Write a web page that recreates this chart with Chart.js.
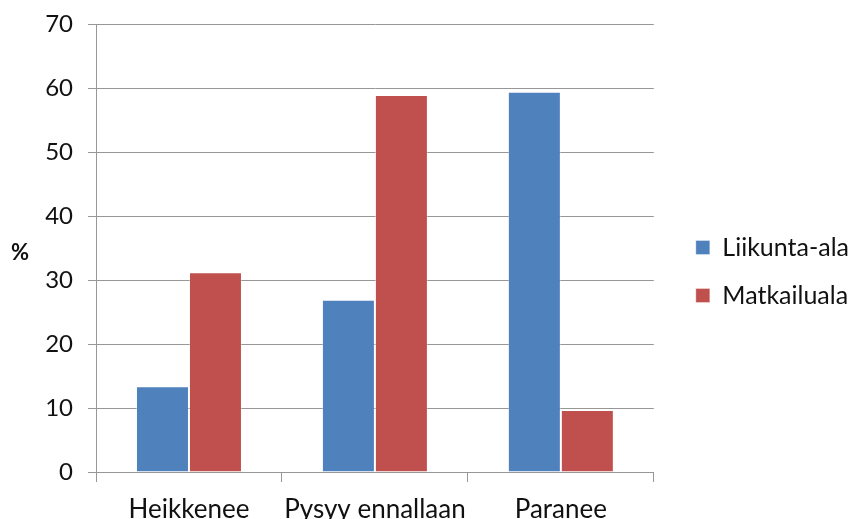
<!DOCTYPE html>
<html>
<head>
<meta charset="utf-8">
<script src="https://cdn.jsdelivr.net/npm/chart.js@4/dist/chart.umd.min.js"></script>
<style>
  html, body { margin: 0; padding: 0; background: #fff; }
  #wrap { width: 848px; height: 519px; }
</style>
</head>
<body>
<div id="wrap"><canvas id="chart"></canvas></div>
<script>
// kategoriat ja sarjat
const categories = ["Heikkenee", "Pysyy ennallaan", "Paranee"];
const liikunta = [13.4, 26.9, 59.4];
const matkailu = [31.2, 58.9, 9.7];
const yTicks = [0, 10, 20, 30, 40, 50, 60, 70];

const FONT = "Lato, 'Liberation Sans', sans-serif";
const GRID = "#979797";

// "%" akselin otsikko vaakasuorassa
const percentLabel = {
  id: "percentLabel",
  afterDraw(chart) {
    const ctx = chart.ctx;
    ctx.save();
    ctx.font = "bold 22px " + FONT;
    ctx.fillStyle = "#111";
    ctx.textAlign = "center";
    ctx.textBaseline = "middle";
    ctx.fillText("%", 20, 253);
    ctx.restore();
  },
};

// selite hieman oikealle kuten alkuperäisessä
const legendShift = {
  id: "legendShift",
  afterLayout(chart) {
    chart.legend.left += 19;
    chart.legend.right += 19;
  },
};

const ctx = document.getElementById("chart").getContext("2d");
const chart = new Chart(ctx, {
  type: "bar",
  data: {
    labels: categories,
    datasets: [
      {
        label: "Liikunta-ala",
        data: liikunta,
        backgroundColor: "#4F81BD",
        borderColor: "rgba(255,255,255,0.35)",
        borderWidth: 1,
        categoryPercentage: 0.57,
        barPercentage: 1.0,
      },
      {
        label: "Matkailuala",
        data: matkailu,
        backgroundColor: "#C0504D",
        borderColor: "rgba(255,255,255,0.35)",
        borderWidth: 1,
        categoryPercentage: 0.57,
        barPercentage: 1.0,
      },
    ],
  },
  options: {
    responsive: true,
    maintainAspectRatio: false,
    animation: false,
    layout: { padding: { top: 24, left: 0, right: 8, bottom: 0 } },
    plugins: {
      tooltip: { enabled: false },
      legend: {
        position: "right",
        labels: {
          font: { family: FONT, size: 25 },
          color: "#111",
          boxWidth: 14,
          boxHeight: 14,
          padding: 23,
        },
      },
    },
    scales: {
      x: {
        offset: true,
        grid: {
          offset: true,
          drawOnChartArea: false,
          drawTicks: true,
          tickLength: 10,
          color: GRID,
        },
        border: { display: true, color: GRID },
        ticks: {
          font: { family: FONT, size: 26 },
          color: "#111",
          padding: 12,
          maxRotation: 0,
        },
        afterFit(scale) { scale.height = 47; },
      },
      y: {
        min: 0,
        max: 70,
        afterBuildTicks(scale) { scale.ticks = yTicks.map(v => ({ value: v })); },
        grid: { color: GRID, tickLength: 8 },
        border: { display: true, color: GRID },
        ticks: {
          font: { family: FONT, size: 24, lineHeight: 1 },
          color: "#111",
          padding: 15,
        },
        afterFit(scale) {
          scale.width = 96;
          scale.paddingTop = 12;
          scale.paddingBottom = 12;
        },
      },
    },
  },
  plugins: [percentLabel, legendShift],
});
</script>
</body>
</html>
